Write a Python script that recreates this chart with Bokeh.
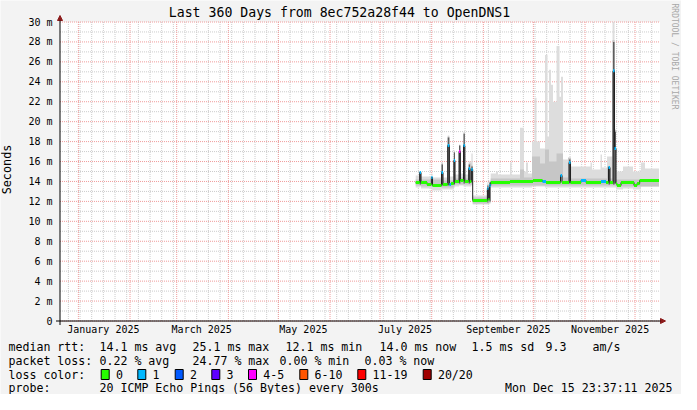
import math
import numpy as np
import pandas as pd
from bokeh.plotting import figure
from bokeh.models import (Label, BoxAnnotation, Arrow, NormalHead, ColumnDataSource)
from bokeh.embed import file_html
from bokeh.resources import INLINE

MONO = "DejaVu Sans Mono"
BASE = pd.Timestamp("2025-01-01")


def dnum(ts):
    return (pd.Timestamp(ts) - BASE) / pd.Timedelta(days=1)


# ---------------- axes / ticks ----------------
X_START = dnum("2024-12-20 23:37:11")
X_END = dnum("2025-12-15 23:37:11")
Y_MIN, Y_MAX = 0, 30
month_starts = [dnum(t) for t in pd.date_range("2025-01-01", "2025-12-01", freq="MS")]
week_lines = [dnum(t) for t in pd.date_range("2024-12-26", "2025-12-15", freq="7D")]
x_label_days = [15, 74, 135, 196, 258, 319]
x_label_text = ["January 2025", "March 2025", "May 2025", "July 2025",
                "September 2025", "November 2025"]
y_major = list(range(0, 31, 2))
y_minor = list(range(1, 30, 2))
y_tick_labels = ["0"] + [f"{v} m" for v in y_major[1:]]

# ---------------- data (days since 2025-01-01, values in ms) ----------------
med_day = [202.4, 204.8, 205.6, 209.2, 211.8, 212.5, 217.9, 218.8, 221.6, 222.6,
           223.6, 225.3, 226.0, 228.4, 229.2, 231.1, 231.9, 234.2, 235.0, 235.8,
           236.6, 245.4, 246.0, 246.6, 247.4, 259.0, 272.8, 278.5, 280.6, 289.3,
           290.2, 294.4, 295.3, 301.6, 304.6, 313.6, 316.6, 318.1, 319.0, 320.8,
           321.7, 322.6, 323.2, 325.6, 333.4, 335.2, 336.8, 348.4]
med_ms = [13.9, 14.9, 13.9, 13.7, 14.4, 13.6, 14.9, 13.7, 17.6, 13.7,
          13.8, 16.1, 14.0, 17.0, 14.1, 17.6, 14.0, 15.3, 14.0, 15.2,
          12.1, 13.3, 12.2, 13.6, 13.9, 14.0, 14.1, 14.0, 13.9, 14.6,
          13.9, 15.9, 13.9, 14.1, 13.9, 14.0, 13.9, 15.4, 13.9, 25.1,
          17.3, 13.8, 13.6, 13.9, 13.6, 13.8, 14.1, 14.1]
med_loss = [0, 1, 0, 0, 1, 0, 1, 0, 1, 1,
            0, 1, 0, 4, 0, 1, 0, 1, 0, 1,
            0, 1, 0, 1, 0, 0, 0, 1, 0, 1,
            0, 1, 0, 1, 0, 1, 0, 1, 0, 1,
            1, 0, 0, 0, 0, 0, 0, 0]

outer_day = [202.4, 204.8, 205.6, 211.8, 212.5, 217.9, 218.8, 221.6, 222.6, 225.3,
             226.0, 228.4, 229.2, 231.1, 231.9, 234.2, 235.8, 236.6, 245.4, 246.0,
             246.6, 247.4, 250.6, 251.8, 259.0, 259.9, 265.0, 267.4, 268.6, 269.8,
             272.2, 273.7, 274.9, 277.0, 280.0, 281.5, 282.4, 283.6, 284.8, 286.9,
             288.7, 289.6, 290.8, 295.6, 307.3, 308.2, 313.3, 314.2, 317.2, 320.5,
             321.7, 322.6, 326.8, 332.8, 337.6, 340.0, 348.4]
outer_hi = [14.6, 15.0, 14.5, 14.8, 14.4, 15.9, 14.4, 18.6, 14.5, 17.1,
            14.7, 17.7, 14.8, 19.0, 14.7, 16.0, 16.8, 12.6, 13.9, 12.6,
            14.1, 14.8, 15.0, 14.7, 15.9, 14.7, 19.4, 15.0, 15.9, 14.8,
            18.0, 22.4, 18.0, 17.3, 26.7, 18.5, 25.2, 23.7, 22.0, 27.6,
            22.5, 24.5, 16.2, 15.5, 15.9, 15.2, 16.7, 15.4, 16.5, 30.0,
            19.2, 15.0, 15.5, 15.0, 15.9, 15.3, 15.3]
outer_lo = [13.4, 13.5, 13.3, 13.2, 13.1, 13.2, 13.2, 13.2, 13.2, 13.4,
            13.5, 13.6, 13.6, 13.5, 13.5, 13.5, 13.6, 11.7, 11.7, 11.7,
            11.8, 13.4, 13.4, 13.4, 13.4, 13.4, 13.4, 13.4, 13.4, 13.4,
            13.5, 13.5, 13.5, 13.5, 13.4, 13.4, 13.4, 13.4, 13.4, 13.4,
            13.4, 13.4, 13.4, 13.4, 13.4, 13.4, 13.4, 13.4, 13.4, 13.4,
            13.4, 13.2, 13.3, 13.2, 13.5, 13.5, 13.5]

inner_day = [202.4, 204.8, 205.6, 217.9, 218.8, 221.6, 222.6, 225.3, 226.0, 228.4,
             229.2, 231.1, 231.9, 234.2, 235.8, 236.6, 245.4, 246.0, 246.6, 247.4,
             265.0, 267.4, 272.2, 277.0, 280.0, 282.4, 286.9, 290.8, 293.8, 295.6,
             317.2, 319.0, 320.5, 321.7, 322.6, 348.4]
inner_hi = [14.2, 15.0, 14.2, 15.8, 14.1, 18.5, 14.1, 17.0, 14.3, 17.6,
            14.4, 18.9, 14.3, 15.8, 15.6, 12.4, 13.7, 12.4, 13.9, 14.3,
            15.2, 14.4, 16.5, 15.8, 17.2, 16.0, 16.8, 14.4, 16.4, 14.3,
            15.5, 14.3, 28.2, 19.2, 14.2, 14.4]
inner_lo = [13.6, 13.6, 13.5, 13.4, 13.4, 13.4, 13.4, 13.6, 13.7, 13.7,
            13.7, 13.7, 13.7, 13.7, 13.7, 11.8, 11.8, 11.8, 11.9, 13.6,
            13.6, 13.6, 13.6, 13.6, 13.6, 13.6, 13.6, 13.6, 13.6, 13.6,
            13.6, 13.6, 13.6, 13.6, 13.5, 13.7]

# dark smoke of the latency spikes
core_day = [204.8, 205.6, 217.9, 218.8, 221.6, 222.6, 225.3, 226.0, 228.4, 229.2,
            231.1, 231.9, 234.2, 235.0, 235.8, 236.6, 245.4, 246.0, 246.6, 247.4,
            294.4, 295.3, 318.1, 319.0, 320.8, 321.7, 322.6]
core_hi = [14.9, 13.9, 15.7, 13.7, 18.4, 13.7, 16.9, 14.0, 17.6, 14.1,
           18.8, 14.0, 15.7, 14.0, 15.5, 12.1, 13.6, 12.2, 13.9, 13.9,
           16.2, 13.9, 15.5, 13.9, 28.0, 19.0, 13.8]
core_lo = [13.7, 13.9, 13.6, 13.7, 13.6, 13.7, 13.7, 14.0, 13.8, 14.1,
           13.8, 14.0, 13.8, 14.0, 13.9, 12.1, 11.9, 12.2, 12.0, 13.9,
           13.8, 13.9, 13.7, 13.9, 13.7, 13.8, 13.8]

loss_labels = ["0", "1", "2", "3", "4-5", "6-10", "11-19", "20/20"]
loss_colors = ["#26ff00", "#00b8ff", "#0059ff", "#5e00ff", "#ff00ff",
               "#ff5500", "#ff0000", "#a00000"]

title_text = "Last 360 Days from 8ec752a28f44 to OpenDNS1"
rtt_label = "median rtt:"
rtt_stats = ["14.1 ms avg", "25.1 ms max", "12.1 ms min", "14.0 ms now",
             "1.5 ms sd", "9.3", "am/s"]
loss_label = "packet loss:"
loss_stats = ["0.22 % avg", "24.77 % max", "0.00 % min", "0.03 % now"]
probe_label = "probe:"
probe_text = "20 ICMP Echo Pings (56 Bytes) every 300s"
date_text = "Mon Dec 15 23:37:11 2025"

# ---------------- layout: the frame covers the whole canvas ----------------
# page pixels: canvas spans x 8..689, y 8..402; plot area x 67.5..667.5, y 29.5..328.5
W, H = 681, 394
PL, PR, PT, PB = 67.5, 667.5, 29.5, 328.5
PX_PER_DAY = (PR - PL) / (X_END - X_START)
PX_PER_MS = (PB - PT) / (Y_MAX - Y_MIN)
xr = (X_START - (PL - 8) / PX_PER_DAY, X_END + (689 - PR) / PX_PER_DAY)
yr = (Y_MIN - (402 - PB) / PX_PER_MS, Y_MAX + (PT - 8) / PX_PER_MS)

p = figure(width=W, height=H, x_range=xr, y_range=yr,
           x_axis_location=None, y_axis_location=None,
           output_backend="svg", toolbar_location=None, title=None,
           min_border=0, background_fill_color="#f3f3f3",
           border_fill_color="#f3f3f3", outline_line_color=None)
p.grid.visible = False

# white plot area
p.add_layout(BoxAnnotation(left=X_START, right=X_END, bottom=Y_MIN, top=Y_MAX,
                           fill_color="white", fill_alpha=1, line_color=None,
                           level="underlay"))

# grid lines
wk = [d for d in week_lines if X_START < d < X_END]
p.segment(x0=wk, x1=wk, y0=Y_MIN, y1=Y_MAX, line_color="#cccccc", line_dash="1 1")
p.segment(x0=X_START, x1=X_END, y0=y_minor, y1=y_minor, line_color="#cccccc",
          line_dash="1 1")
p.segment(x0=month_starts, x1=month_starts, y0=Y_MIN, y1=Y_MAX,
          line_color="#f09c9c", line_dash="1 1")
p.segment(x0=X_START, x1=X_END, y0=y_major, y1=y_major, line_color="#f09c9c",
          line_dash="1 1")


def step_xy(days, vals):
    xs = np.repeat(np.asarray(days, float), 2)[1:]
    ys = np.repeat(np.asarray(vals, float), 2)[:-1]
    return xs, ys


for days, hi, lo, col in [(outer_day, outer_hi, outer_lo, "#dddddd"),
                          (inner_day, inner_hi, inner_lo, "#c6c6c6"),
                          (core_day, core_hi, core_lo, "#5e5e5e")]:
    xs, yh = step_xy(days, hi)
    _, yl = step_xy(days, lo)
    p.varea(x=xs, y1=yl, y2=yh, fill_color=col)

p.step(med_day, med_ms, mode="after", line_color="#202020", line_width=1)
seg = ColumnDataSource(dict(x0=med_day[:-1], x1=med_day[1:], y=med_ms[:-1],
                            c=[loss_colors[k] for k in med_loss[:-1]]))
p.segment(x0="x0", x1="x1", y0="y", y1="y", color="c", line_width=3,
          line_cap="butt", source=seg)


# helpers: page pixel -> screen units (frame == canvas, origin bottom-left)
def sx(X):
    return X - 8


def sy(Y):
    return 402 - Y


# axis arrows
head = dict(size=5, fill_color="#8b1a1a", line_color="#8b1a1a")
p.add_layout(Arrow(end=NormalHead(**head), x_start=sx(PL), y_start=sy(PB + 4),
                   x_end=sx(PL), y_end=sy(23), start_units="screen",
                   end_units="screen", line_color="black", line_width=1))
p.add_layout(Arrow(end=NormalHead(**head), x_start=sx(PL - 4), y_start=sy(PB),
                   x_end=sx(673), y_end=sy(PB), start_units="screen",
                   end_units="screen", line_color="black", line_width=1))


def txt(X, Y, s, size="11.6px", align="left", color="black", angle=0.0):
    p.add_layout(Label(x=sx(X), y=sy(Y), x_units="screen", y_units="screen",
                       text=s, text_font=MONO, text_font_size=size,
                       text_align=align, text_baseline="middle",
                       text_color=color, angle=angle))


# tick labels
for v, s in zip(y_major, y_tick_labels):
    p.add_layout(Label(x=sx(60), y=v, x_units="screen", y_units="data", text=s,
                       text_font=MONO, text_font_size="10px", text_align="right",
                       text_baseline="middle", text_color="black"))
for d, s in zip(x_label_days, x_label_text):
    p.add_layout(Label(x=d, y=sy(337), x_units="data", y_units="screen", text=s,
                       text_font=MONO, text_font_size="10px", text_align="center",
                       text_baseline="middle", text_color="black"))

txt(347, 19.5, title_text, size="13.2px", align="center")
txt(14, 177, "Seconds", size="11.8px", align="center", angle=math.pi / 2)
txt(682, 64, "RRDTOOL / TOBI OETIKER", size="8px", align="center",
    color="#a8a8a8", angle=-math.pi / 2)

txt(16, 354, rtt_label)
for X, s in zip([107, 200, 293, 387, 479, 553, 600], rtt_stats):
    txt(X, 354, s)
txt(16, 368, loss_label)
for X, s in zip([107, 200, 287, 372], loss_stats):
    txt(X, 368, s)
txt(16, 382, "loss color:")
for X, lab, col in zip([108.7, 145.3, 182.7, 219.3, 256, 307.3, 365.3, 430.7],
                       loss_labels, loss_colors):
    p.add_layout(BoxAnnotation(left=sx(X), right=sx(X + 8), top=sy(377),
                               bottom=sy(387), left_units="screen",
                               right_units="screen", top_units="screen",
                               bottom_units="screen", fill_color=col, fill_alpha=1,
                               line_color="black", line_width=1, line_alpha=1))
    txt(X + 14.7, 382, lab)
txt(16, 395.5, probe_label)
txt(107, 395.5, probe_text)
txt(680, 395.5, date_text, align="right")

open("out.html", "w").write(file_html(p, INLINE))
